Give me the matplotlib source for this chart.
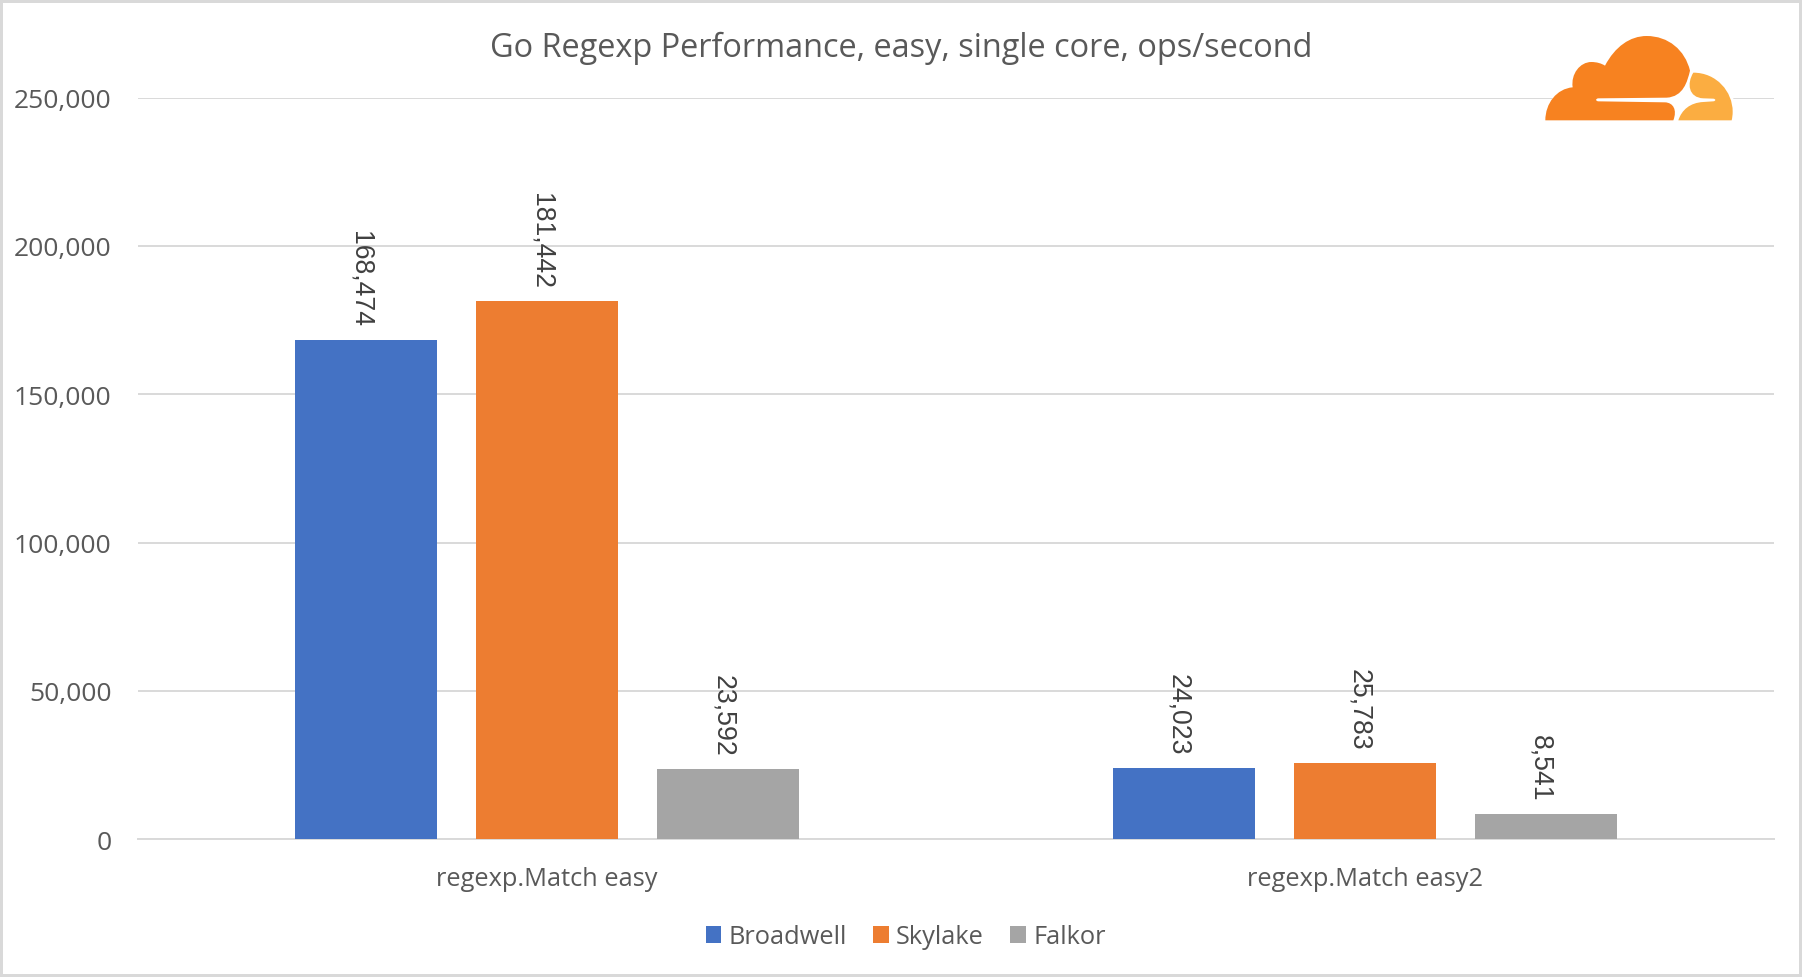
import matplotlib.pyplot as plt
from matplotlib.patches import PathPatch
from matplotlib.path import Path
from matplotlib.transforms import ScaledTranslation

categories = ["regexp.Match easy", "regexp.Match easy2"]
broadwell = [168474, 24023]
skylake = [181442, 25783]
falkor = [23592, 8541]
y_ticks = [0, 50000, 100000, 150000, 200000, 250000]

C = Path.CURVE4
M = Path.MOVETO
L = Path.LINETO


def bezier_patch(segments, color):
    # segments: first point, then lines (1 point) or curves (3 points)
    verts = [segments[0]]
    codes = [M]
    for seg in segments[1:]:
        verts.extend(seg)
        codes.extend([L] if len(seg) == 1 else [C, C, C])
    verts.append(segments[0])
    codes.append(Path.CLOSEPOLY)
    return PathPatch(Path(verts, codes), facecolor=color, edgecolor="none")


plt.rcParams["font.family"] = "Open Sans"
fig, ax = plt.subplots(figsize=(18.02, 9.77), dpi=100, edgecolor="#d9d9d9", linewidth=4)
plt.subplots_adjust(left=138 / 1802, right=1774 / 1802, top=1 - 97.9 / 977, bottom=1 - 839.2 / 977)

bar_width = 0.1742
step = 0.2215
for offset, values, name, color in [(-step, broadwell, "Broadwell", "#4472c4"),
                                    (0, skylake, "Skylake", "#ed7d31"),
                                    (step, falkor, "Falkor", "#a5a5a5")]:
    xs = [i + offset for i in range(len(categories))]
    ax.bar(xs, values, bar_width, color=color, label=name, zorder=3)
    for x, v in zip(xs, values):
        ax.annotate(f"{v:,}", (x, v), xytext=(-4, 9), textcoords="offset points", rotation=-90,
                    ha="center", va="bottom", fontsize=19.2, color="#404040", family="Liberation Sans")

ax.set_xlim(-0.5, 1.5)
ax.set_ylim(0, 250000)
ax.set_xticks(range(len(categories)), categories)
ax.set_yticks(y_ticks, [f"{t:,}" for t in y_ticks])
ax.tick_params(axis="both", length=0, labelsize=18.3, labelcolor="#595959")
ax.tick_params(axis="x", pad=20)
ax.tick_params(axis="y", labelsize=19, pad=19)
for label in ax.get_yticklabels():
    label.set_transform(label.get_transform() + ScaledTranslation(0, -0.6 / 72, fig.dpi_scale_trans))
ax.grid(axis="y", color="#d9d9d9", linewidth=1.4, zorder=0)
for side in ["top", "right", "left"]:
    ax.spines[side].set_visible(False)
ax.spines["bottom"].set_color("#d9d9d9")
ax.spines["bottom"].set_linewidth(1.4)

fig.text(784 / 1568, 1 - 48.5 / 977, "Go Regexp Performance, easy, single core, ops/second",
         ha="center", va="center", fontsize=23.4, color="#595959")
fig.legend(loc="center", bbox_to_anchor=(788 / 1568, 1 - 937 / 977), ncol=3, frameon=False,
           fontsize=18.3, labelcolor="#595959", handlelength=0.62, handleheight=0.62,
           handletextpad=0.27, columnspacing=1.05)

# logo, in pixels of a 3x crop of the top right corner
logo = fig.add_axes([1500 / 1802, 1 - 150 / 977, 302 / 1802, 150 / 977], zorder=5)
logo.set_xlim(0, 906)
logo.set_ylim(450, 0)
logo.axis("off")
logo.add_patch(bezier_patch([(136, 362), [(136, 310), (170, 266), (218, 262)],
                             [(212, 222), (240, 186), (274, 186)], [(290, 186), (304, 190), (315, 197)],
                             [(345, 140), (390, 108), (440, 108)], [(505, 108), (555, 150), (570, 212)],
                             [(700, 212)], [(700, 362)]], "white"))
logo.add_patch(bezier_patch([(136, 361), [(136, 310), (170, 266), (218, 262)],
                             [(212, 222), (240, 186), (274, 186)], [(290, 186), (304, 190), (315, 197)],
                             [(345, 140), (390, 108), (440, 108)], [(505, 108), (555, 150), (570, 212)],
                             [(562, 245), (550, 290), (500, 293)], [(295, 295)],
                             [(286, 296), (286, 303), (295, 304)], [(495, 307)],
                             [(520, 308), (532, 330), (520, 361)]], "#f78220"))
logo.add_patch(bezier_patch([(580, 218), [(650, 218), (698, 275), (698, 335)], [(698, 345), (697, 352), (695, 361)],
                             [(535, 361)], [(545, 330), (570, 308), (610, 306)], [(640, 304)],
                             [(648, 303), (648, 297), (640, 296)], [(610, 295)],
                             [(565, 293), (560, 250), (580, 218)]], "#fbad41"))

fig.savefig("out.png", dpi=100, edgecolor=fig.get_edgecolor())
